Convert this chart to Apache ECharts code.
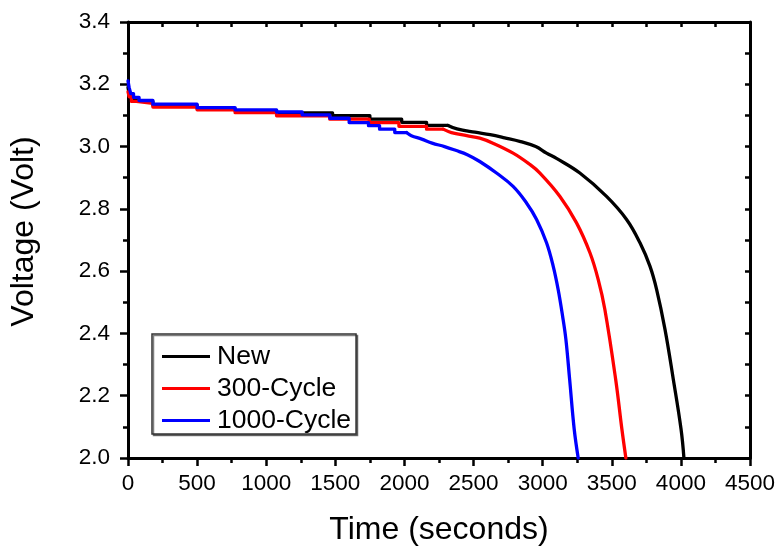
<!DOCTYPE html>
<html>
<head>
<meta charset="utf-8">
<script src="https://cdn.jsdelivr.net/npm/echarts@6/dist/echarts.min.js"></script>
<style>
html,body{margin:0;padding:0;background:#fff;}
#chart{width:780px;height:551px;}
</style>
</head>
<body>
<div id="chart"></div>
<script>
// ---- data ----
var seriesNames = ['New', '300-Cycle', '1000-Cycle'];
var xTicks = [0, 500, 1000, 1500, 2000, 2500, 3000, 3500, 4000, 4500];
var yTicks = [2.0, 2.2, 2.4, 2.6, 2.8, 3.0, 3.2, 3.4];

// stepped (quantised) part: start time of each step and its voltage
var newStepT = [0, 8, 25, 60, 180, 500, 775, 1075, 1480, 1750, 1980, 2160];
var newStepV = [3.19, 3.17, 3.152, 3.145, 3.133, 3.122, 3.115, 3.108, 3.099, 3.088, 3.078, 3.068];
// tail of the discharge curve
var newTailT = [2315, 2380, 2510, 2620, 2725, 2840, 2950, 3028, 3100, 3269, 3462, 3607, 3704, 3776, 3825, 3885, 3945, 4001, 4022];
var newTailV = [3.066, 3.057, 3.046, 3.038, 3.028, 3.016, 3.000, 2.979, 2.962, 2.915, 2.840, 2.766, 2.691, 2.616, 2.540, 2.413, 2.253, 2.093, 2.0];

var c300StepT = [0, 8, 25, 60, 180, 500, 775, 1075, 1460, 1745, 1960, 2160];
var c300StepV = [3.176, 3.16, 3.145, 3.139, 3.127, 3.118, 3.109, 3.099, 3.088, 3.077, 3.065, 3.056];
var c300TailT = [2280, 2340, 2450, 2545, 2640, 2786, 2900, 2980, 3125, 3245, 3342, 3402, 3450, 3528, 3573, 3602];
var c300TailV = [3.054, 3.045, 3.035, 3.027, 3.011, 2.979, 2.945, 2.915, 2.840, 2.755, 2.659, 2.573, 2.477, 2.253, 2.093, 2.0];

var c1000StepT = [0, 8, 20, 40, 80, 180, 500, 775, 1075, 1260, 1460, 1600, 1740, 1820, 1930];
var c1000StepV = [3.211, 3.19, 3.17, 3.158, 3.148, 3.136, 3.125, 3.118, 3.111, 3.102, 3.091, 3.077, 3.067, 3.056, 3.045];
var c1000TailT = [2015, 2050, 2125, 2200, 2290, 2370, 2455, 2545, 2666, 2786, 2883, 2956, 3028, 3076, 3112, 3144, 3168, 3195, 3228, 3257];
var c1000TailV = [3.043, 3.035, 3.024, 3.011, 3.000, 2.988, 2.974, 2.952, 2.915, 2.872, 2.819, 2.766, 2.691, 2.616, 2.541, 2.456, 2.381, 2.253, 2.093, 2.0];

var colors = ['#000000', '#ff0000', '#0000ff'];

// stepped part: each step is held until the next step / tail starts
function buildSteps(stepT, stepV, tailT) {
  var pts = [];
  for (var i = 0; i < stepT.length; i++) {
    var end = (i + 1 < stepT.length) ? stepT[i + 1] : tailT[0];
    pts.push([stepT[i], stepV[i]]);
    pts.push([end, stepV[i]]);
  }
  return pts;
}
// curved part starts where the last step ends
function buildTail(stepV, tailT, tailV) {
  var pts = [[tailT[0], stepV[stepV.length - 1]]];
  for (var j = 0; j < tailT.length; j++) pts.push([tailT[j], tailV[j]]);
  return pts;
}
var stepSets = [
  buildSteps(newStepT, newStepV, newTailT),
  buildSteps(c300StepT, c300StepV, c300TailT),
  buildSteps(c1000StepT, c1000StepV, c1000TailT)
];
var tailSets = [
  buildTail(newStepV, newTailT, newTailV),
  buildTail(c300StepV, c300TailT, c300TailV),
  buildTail(c1000StepV, c1000TailT, c1000TailV)
];

var FONT = "'Liberation Sans', Arial, sans-serif";
var chart = echarts.init(document.getElementById('chart'), null, {renderer: 'canvas'});
var axisLineStyle = {color: '#000', width: 3};

var series = [];
seriesNames.forEach(function (n, i) {
  var common = {
    name: n, type: 'line', xAxisIndex: 0, yAxisIndex: 0,
    showSymbol: false, symbol: 'none', color: colors[i],
    lineStyle: {color: colors[i], width: 3.3, join: 'round', cap: 'round'},
    itemStyle: {color: colors[i]}, clip: true
  };
  series.push(Object.assign({}, common, {data: stepSets[i]}));
  series.push(Object.assign({}, common, {data: tailSets[i], smooth: 0.4}));
});

var option = {
  animation: false,
  backgroundColor: '#fff',
  grid: {left: 128, right: 30, top: 22, bottom: 92},
  legend: {
    orient: 'vertical',
    left: 152, top: 334,
    data: seriesNames,
    icon: 'rect',
    itemWidth: 48, itemHeight: 3,
    itemGap: 5,
    padding: [9, 5, 0, 10],
    borderColor: '#333', borderWidth: 1.5,
    backgroundColor: '#fff',
    shadowColor: 'rgba(0,0,0,0.5)', shadowBlur: 0, shadowOffsetX: 1.5, shadowOffsetY: 1.5,
    textStyle: {fontSize: 26.5, fontFamily: FONT, color: '#000', padding: [0, 0, 0, 2]}
  },
  xAxis: [{
    type: 'value', min: 0, max: 4500, interval: 500,
    name: 'Time (seconds)', nameLocation: 'middle', nameGap: 56,
    nameTextStyle: {fontSize: 32, fontFamily: FONT, color: '#000'},
    axisLine: {show: true, onZero: false, lineStyle: axisLineStyle},
    axisTick: {show: true, inside: false, length: 8, lineStyle: {color: '#000', width: 2.5}},
    minorTick: {show: true, splitNumber: 2, length: 5, lineStyle: {color: '#000', width: 2.5}},
    splitLine: {show: false},
    axisLabel: {fontSize: 22.5, fontFamily: FONT, color: '#000', margin: 14,
      formatter: function (v) { return xTicks.indexOf(v) >= 0 ? String(v) : ''; }}
  }, {
    type: 'value', position: 'top', min: 0, max: 4500, interval: 250,
    axisLine: {show: true, onZero: false, lineStyle: axisLineStyle},
    axisTick: {show: true, inside: true, length: 5, lineStyle: {color: '#000', width: 2.5}},
    splitLine: {show: false}, axisLabel: {show: false}
  }],
  yAxis: [{
    type: 'value', min: 2.0, max: 3.4, interval: 0.2,
    name: 'Voltage (Volt)', nameLocation: 'middle', nameGap: 88, nameRotate: 90,
    nameTextStyle: {fontSize: 32, fontFamily: FONT, color: '#000', padding: [0, 0, 0, 17]},
    axisLine: {show: true, onZero: false, lineStyle: axisLineStyle},
    axisTick: {show: true, inside: false, length: 8, lineStyle: {color: '#000', width: 2.5}},
    minorTick: {show: true, splitNumber: 2, length: 5, lineStyle: {color: '#000', width: 2.5}},
    splitLine: {show: false},
    axisLabel: {fontSize: 22.5, fontFamily: FONT, color: '#000', margin: 18,
      formatter: function (v) { return v.toFixed(1); }}
  }, {
    type: 'value', position: 'right', min: 2.0, max: 3.4, interval: 0.1,
    axisLine: {show: true, onZero: false, lineStyle: axisLineStyle},
    axisTick: {show: true, inside: true, length: 5, lineStyle: {color: '#000', width: 2.5}},
    splitLine: {show: false}, axisLabel: {show: false}
  }],
  series: series
};
chart.setOption(option);
</script>
</body>
</html>
